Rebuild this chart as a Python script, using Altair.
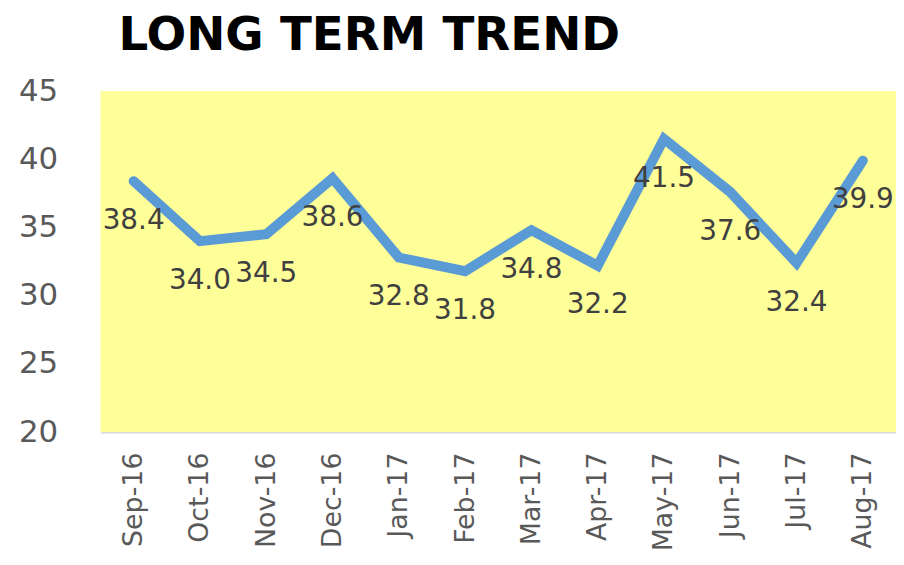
import altair as alt
import pandas as pd

months = ["Sep-16", "Oct-16", "Nov-16", "Dec-16", "Jan-17", "Feb-17",
          "Mar-17", "Apr-17", "May-17", "Jun-17", "Jul-17", "Aug-17"]
values = [38.4, 34.0, 34.5, 38.6, 32.8, 31.8, 34.8, 32.2, 41.5, 37.6, 32.4, 39.9]
labels = [f"{v:.1f}" for v in values]
y_ticks = [20, 25, 30, 35, 40, 45]

df = pd.DataFrame({"month": months, "value": values, "label": labels})

x = alt.X("month:N", sort=months, title=None,
          scale=alt.Scale(type="point", padding=0.5),
          axis=alt.Axis(labelAngle=-90, labelFont="DejaVu Sans", labelFontSize=27,
                        labelColor="#595959", labelPadding=20, ticks=False,
                        domainColor="#D9D9D9", domainWidth=1.5, grid=False))
y = alt.Y("value:Q", title=None,
          scale=alt.Scale(domain=[20, 45], nice=False, zero=False),
          axis=alt.Axis(values=y_ticks, labelFont="DejaVu Sans", labelFontSize=31,
                        labelColor="#595959", labelPadding=43, ticks=False,
                        domain=False, grid=False))

line = alt.Chart(df).mark_line(color="#5B9BD5", strokeWidth=10,
                               strokeCap="round", strokeJoin="miter").encode(x=x, y=y)
text = alt.Chart(df).mark_text(font="DejaVu Sans", fontSize=28, color="#404040",
                               dy=40, baseline="middle", align="center").encode(
    x=x, y=y, text="label:N")

chart = (line + text).properties(
    width=800, height=343,
    padding={"left": 10, "top": 3, "right": 0, "bottom": 0},
    title=alt.TitleParams("LONG TERM TREND", anchor="start", frame="group", dx=18,
                          offset=15, font="DejaVu Sans", fontSize=47,
                          fontWeight="bold", color="#000000"),
).configure_view(fill="#FFFF99", stroke=None)

chart.save("out.html", embed_options={"renderer": "svg", "actions": False})
